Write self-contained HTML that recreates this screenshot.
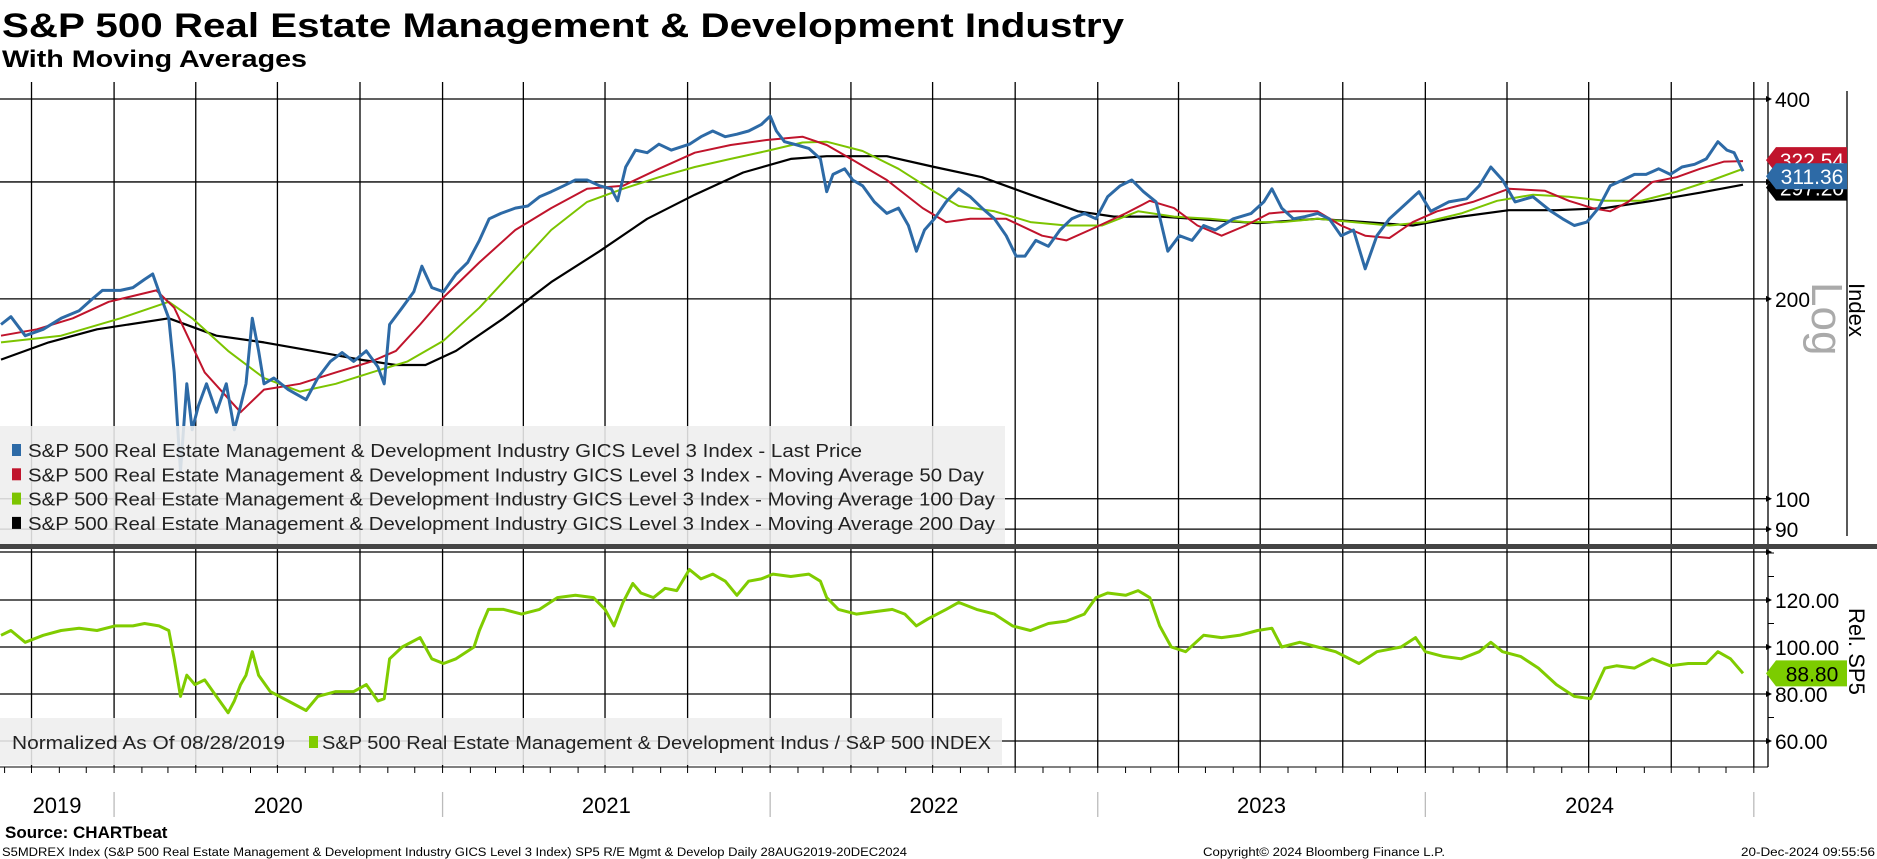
<!DOCTYPE html>
<html><head><meta charset="utf-8">
<style>
html,body{margin:0;padding:0;background:#fff;}
svg{display:block;font-family:"Liberation Sans",sans-serif;}
</style></head>
<body>
<svg id="chart" width="1877" height="859" viewBox="0 0 1877 859" xmlns="http://www.w3.org/2000/svg">
  <text x="2" y="37" font-size="34" font-weight="bold" textLength="1122" lengthAdjust="spacingAndGlyphs">S&amp;P 500 Real Estate Management &amp; Development Industry</text>
  <text x="2" y="67" font-size="24" font-weight="bold" textLength="305" lengthAdjust="spacingAndGlyphs">With Moving Averages</text>
  <g id="grid"></g>
  <g id="series"></g>
  <g id="overlay"></g>
  <text x="5" y="838" font-size="17" font-weight="bold">Source: CHARTbeat</text>
  <text x="2" y="856" font-size="11.5" textLength="905" lengthAdjust="spacingAndGlyphs">S5MDREX Index (S&amp;P 500 Real Estate Management &amp; Development Industry GICS Level 3 Index) SP5 R/E Mgmt &amp; Develop  Daily 28AUG2019-20DEC2024</text>
  <text x="1203" y="856" font-size="11.5" textLength="242" lengthAdjust="spacingAndGlyphs">Copyright© 2024 Bloomberg Finance L.P.</text>
  <text x="1741" y="856" font-size="11.5" textLength="134" lengthAdjust="spacingAndGlyphs">20-Dec-2024 09:55:56</text>
</svg>
<script>
// ---- data (days since 28 Aug 2019) ----
const priceDays=[0,11,27,47,67,87,100,113,133,147,160,169,176,187,193,200,207,213,220,229,240,251,260,267,273,280,287,293,304,320,340,353,367,380,393,407,420,427,433,447,460,469,480,493,507,520,533,544,557,573,587,600,613,627,640,653,667,680,687,696,707,720,733,747,767,780,793,807,820,833,847,857,864,873,887,900,913,920,927,940,949,960,973,987,1000,1011,1020,1029,1040,1053,1067,1080,1093,1107,1120,1131,1141,1153,1167,1180,1193,1207,1220,1233,1247,1260,1273,1287,1300,1313,1327,1340,1353,1373,1393,1407,1416,1427,1440,1453,1467,1480,1493,1507,1520,1533,1547,1560,1580,1593,1613,1633,1647,1660,1673,1687,1707,1727,1740,1753,1767,1780,1793,1807,1820,1833,1847,1860,1873,1887,1900,1913,1923,1931,1941];
const priceVals=[183,188,176,180,187,192,199,206,206,208,214,218,205,187,155,110,149,127,138,149,135,149,127,138,149,187,167,149,152,146,141,152,161,166,161,167,158,149,183,194,205,224,208,205,218,227,245,264,269,274,276,285,290,296,302,302,296,293,281,316,335,332,342,335,342,351,358,351,354,358,366,377,358,345,341,337,325,290,308,314,302,296,280,269,274,258,236,254,264,280,293,285,274,264,249,232,232,245,240,254,264,269,264,285,296,302,290,280,236,249,245,258,254,264,269,280,293,274,264,266,269,264,249,254,222,249,264,274,290,271,280,283,296,316,302,280,285,271,264,258,261,274,296,302,308,308,314,308,316,319,325,345,335,332,311.36];
const ma50Days=[0,40,80,120,173,193,227,267,293,333,373,413,440,467,493,533,573,613,653,693,733,773,813,853,893,920,947,987,1027,1053,1080,1120,1160,1187,1213,1253,1280,1307,1333,1360,1387,1413,1440,1467,1493,1520,1547,1573,1600,1640,1680,1720,1747,1773,1793,1813,1840,1867,1893,1920,1941];
const ma50Vals=[176,180,187,198,206,194,155,135,146,149,155,161,167,183,201,227,254,274,293,296,314,332,341,347,351,341,325,302,274,261,264,264,249,245,254,269,281,274,258,249,258,269,271,271,258,249,247,261,271,280,293,291,281,274,271,280,300,305,314,322,322.54];
const ma100Days=[0,67,133,187,213,253,293,333,373,413,453,493,533,573,613,653,693,733,773,813,853,893,920,960,1000,1040,1067,1107,1147,1187,1227,1267,1307,1347,1387,1427,1467,1507,1547,1587,1627,1667,1707,1747,1787,1827,1867,1907,1941];
const ma100Vals=[172,176,187,198,187,167,152,145,149,155,161,173,194,222,254,280,293,305,316,325,334,344,345,334,314,290,276,271,261,258,258,271,266,264,261,261,264,261,258,261,269,281,287,285,281,281,290,302,314];
const ma200Days=[0,53,107,187,240,293,347,400,440,473,507,560,613,667,720,773,827,880,920,987,1040,1093,1147,1200,1240,1293,1347,1400,1467,1520,1573,1627,1680,1733,1787,1840,1893,1941];
const ma200Vals=[162,172,180,187,176,172,167,162,159,159,167,187,212,236,264,287,310,325,328,328,316,305,287,271,266,266,263,260,264,261,258,266,272,272,274,281,289,297.2];
const relDays=[0,11,27,47,67,87,107,127,147,160,176,187,193,200,207,216,227,240,253,260,267,273,280,287,300,320,340,353,373,393,407,420,427,433,447,467,480,493,507,527,533,543,560,580,600,620,640,660,673,683,693,704,713,727,740,753,767,780,793,807,820,833,847,860,880,900,913,920,933,953,973,993,1007,1020,1033,1053,1067,1087,1107,1127,1147,1167,1187,1207,1220,1233,1253,1267,1280,1291,1304,1320,1340,1360,1380,1400,1416,1427,1447,1467,1487,1513,1533,1560,1576,1587,1607,1627,1647,1660,1673,1693,1713,1733,1753,1771,1787,1800,1820,1840,1860,1880,1900,1913,1927,1941];
const relVals=[105,107,102,105,107,108,107,109,109,110,109,107,95,79,88,84,86,79,72,77,84,88,98,88,81,77,73,79,81,81,84,77,78,95,100,104,95,93,95,100,107,116,116,114,116,121,122,121,116,109,119,127,123,121,125,124,133,129,131,128,122,128,129,131,130,131,128,121,116,114,115,116,114,109,112,116,119,116,114,109,107,110,111,114,121,123,122,124,121,109,100,98,105,104,105,107,108,100,102,100,98,93,98,100,104,98,96,95,98,102,98,96,91,84,79,78,91,92,91,95,92,93,93,98,95,88.8];
const yearLabels=["2019","2020","2021","2022","2023","2024"];
const yearStartDays=[-239,126,492,857,1222,1587,1953];
const priceTicks=[400,300,200,100,90];
const relTicks=[120,100,80,60];

// ---- scales ----
const X0=1, PXD=0.8975;
const xS=d=>X0+d*PXD;
const yP=v=>99+664*Math.log10(400/v);
const yR=v=>600+(120-v)*2.35;
const NS="http://www.w3.org/2000/svg";
function mk(tag,attrs,parent){const e=document.createElementNS(NS,tag);for(const k in attrs)e.setAttribute(k,attrs[k]);parent.appendChild(e);return e;}
const grid=document.getElementById('grid'), ser=document.getElementById('series'), ov=document.getElementById('overlay');

// quarterly vertical gridlines
for(let y=2019;y<=2025;y++){for(let q=0;q<4;q++){
  const dt=new Date(Date.UTC(y,q*3,1)); const d=(dt-Date.UTC(2019,7,28))/864e5;
  if(d<0||d>1960)continue; const x=xS(d);
  const l=mk('line',{x1:x,x2:x,y1:82,y2:767,stroke:'#000','stroke-width':1.3},grid);
  
  
}}
// horizontal gridlines
priceTicks.forEach(v=>{const y=yP(v);
  const l=mk('line',{x1:0,x2:1768,y1:y,y2:y,stroke:'#000','stroke-width':1.3},grid);
  
  
  if(v!==300){const t=mk('text',{x:1775,y:y+8,'font-size':21},grid);t.textContent=v;
    
    }
  mk('polygon',{points:`${1766},${y-3} ${1772},${y} ${1766},${y+3}`,fill:'#000'},grid);
});
relTicks.forEach(v=>{const y=yR(v);
  const l=mk('line',{x1:0,x2:1768,y1:y,y2:y,stroke:'#000','stroke-width':1.3},grid);
  
  
  const t=mk('text',{x:1775,y:y+8,'font-size':21},grid);t.textContent=v.toFixed(2);
  
  
  mk('polygon',{points:`${1766},${y-3} ${1772},${y} ${1766},${y+3}`,fill:'#000'},grid);
});
[140,130,110,90,70].forEach(v=>{const y=yR(v);mk('line',{x1:1768,x2:1774,y1:y,y2:y,stroke:'#000','stroke-width':1},grid);});
// axes lines
mk('line',{x1:1768,x2:1768,y1:82,y2:767,stroke:'#000','stroke-width':1.3},grid);
mk('line',{x1:1847,x2:1847,y1:91,y2:536,stroke:'#000','stroke-width':1.3},grid);
mk('line',{x1:0,x2:1768,y1:552,y2:552,stroke:'#000','stroke-width':1.3},grid);
mk('polygon',{points:`1766,549 1772,552 1766,555`,fill:'#000'},grid);
mk('line',{x1:0,x2:1768,y1:767,y2:767,stroke:'#000','stroke-width':1},grid);
// year separators & labels
for(let i=0;i<yearLabels.length;i++){
  const a=Math.max(0,xS(yearStartDays[i])), b=xS(yearStartDays[i+1]);
  const t=mk('text',{x:(a+b)/2,y:813,'font-size':22,'text-anchor':'middle'},grid);t.textContent=yearLabels[i];
  
  
  mk('line',{x1:b,x2:b,y1:792,y2:817,stroke:'#bbb','stroke-width':1.3},grid);
}
// monthly small ticks
for(let m=0;m<70;m++){const dt=Date.UTC(2019,8+m,1);const d=(dt-Date.UTC(2019,7,28))/864e5;if(d>1960)break;
  mk('line',{x1:xS(d),x2:xS(d),y1:767,y2:773,stroke:'#000','stroke-width':1},grid);}

function line(days,vals,ys,color,w,name){
  const p=days.map((d,i)=>(i?'L':'M')+xS(d).toFixed(1)+','+ys(vals[i]).toFixed(1)).join('');
  const e=mk('path',{d:p,fill:'none',stroke:color,'stroke-width':w,'stroke-linejoin':'round'},ser);
  
  
}
line(ma200Days,ma200Vals,yP,'#000',2.2,'ma200-line');
line(ma100Days,ma100Vals,yP,'#7cc400',2,'ma100-line');
line(ma50Days,ma50Vals,yP,'#c0142c',2,'ma50-line');
line(priceDays,priceVals,yP,'#2d6aa6',3,'last-price-line');
line(relDays,relVals,yR,'#80cc00',3,'relative-sp5-line');

// separator band
mk('rect',{x:0,y:544,width:1877,height:5,fill:'#444'},ov);

// legends
const lg=mk('rect',{x:0,y:426,width:1005,height:118,fill:'rgba(238,238,238,0.88)'},ov);


const legNames=["S&P 500 Real Estate Management & Development Industry GICS Level 3 Index - Last Price","S&P 500 Real Estate Management & Development Industry GICS Level 3 Index - Moving Average 50 Day","S&P 500 Real Estate Management & Development Industry GICS Level 3 Index - Moving Average 100 Day","S&P 500 Real Estate Management & Development Industry GICS Level 3 Index - Moving Average 200 Day"];
const legColors=['#2d6aa6','#c0142c','#7cc400','#000'];
const legLens=[834,956,967,967];
legNames.forEach((n,i)=>{const y=450+i*24.3;
  const s=mk('rect',{x:12,y:y-6,width:9,height:12,fill:legColors[i]},ov);
  
  
  const t=mk('text',{x:28,y:y+7,'font-size':18,fill:'#222',textLength:legLens[i],lengthAdjust:'spacingAndGlyphs'},ov);t.textContent=n;
  
  
});
const lg2=mk('rect',{x:0,y:718,width:1002,height:47,fill:'rgba(238,238,238,0.88)'},ov);


const t1=mk('text',{x:12,y:749,'font-size':18,fill:'#222',textLength:273,lengthAdjust:'spacingAndGlyphs'},ov);t1.textContent='Normalized As Of 08/28/2019';


const s2=mk('rect',{x:309,y:736,width:9,height:12,fill:'#80cc00'},ov);


const t2=mk('text',{x:322,y:749,'font-size':18,fill:'#222',textLength:669,lengthAdjust:'spacingAndGlyphs'},ov);t2.textContent='S&P 500 Real Estate Management & Development Indus / S&P 500 INDEX';



// value tags
function tag(y,fill,txt,tc,name){
  const g=mk('g',{},ov);
  
  
  mk('polygon',{points:`1766,${y} 1776,${y-13} 1847,${y-13} 1847,${y+13} 1776,${y+13}`,fill:fill},g);
  const t=mk('text',{x:1812,y:y+8,'font-size':21,'text-anchor':'middle',fill:tc},g);t.textContent=txt;
}
tag(yP(ma200Vals[ma200Vals.length-1])+3,'#000','297.20','#fff','ma200-value-tag');
tag(yP(ma50Vals[ma50Vals.length-1])-1,'#c0142c','322.54','#fff','ma50-value-tag');
tag(yP(priceVals[priceVals.length-1])+5,'#2d6aa6','311.36','#fff','last-price-value-tag');
tag(yR(relVals[relVals.length-1]),'#7ccc00','88.80','#000','relative-value-tag');

// axis titles
const lt=mk('text',{x:0,y:0,'font-size':44,fill:'#aaa',transform:'translate(1812,282) rotate(90)'},ov);lt.textContent='Log';


const it=mk('text',{x:0,y:0,'font-size':22,fill:'#000',transform:'translate(1849,283) rotate(90)'},ov);it.textContent='Index';


const rt=mk('text',{x:0,y:0,'font-size':22,fill:'#000',transform:'translate(1849,608) rotate(90)'},ov);rt.textContent='Rel. SP5';


</script>
</body></html>
